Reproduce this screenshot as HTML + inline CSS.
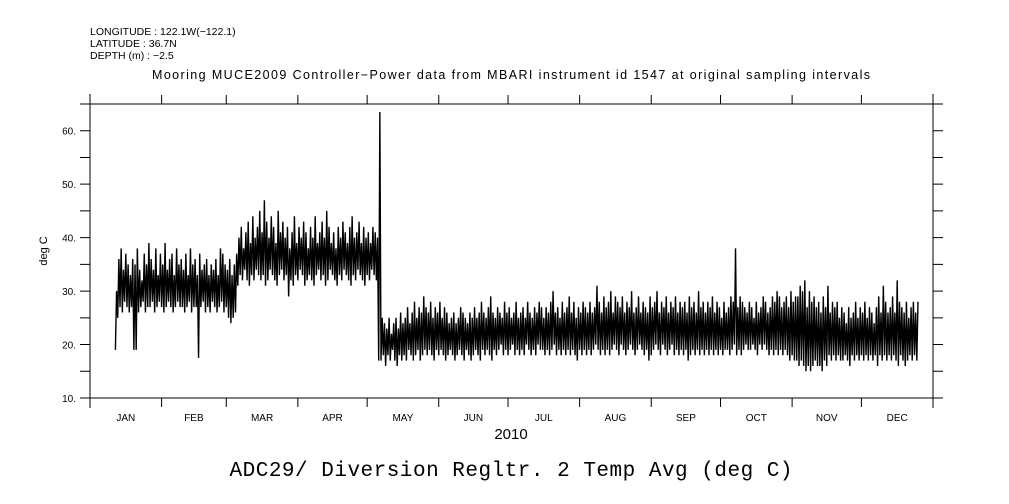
<!DOCTYPE html>
<html><head><meta charset="utf-8"><style>
html,body{margin:0;padding:0;background:#fff;}
svg{display:block;font-family:"Liberation Sans",sans-serif;}
</style></head><body>
<svg id="chart" width="1009" height="504" viewBox="0 0 1009 504" xmlns="http://www.w3.org/2000/svg">
<text x="90" y="35" font-size="10.5">LONGITUDE : 122.1W(−122.1)</text>
<text x="90" y="47" font-size="10.5">LATITUDE : 36.7N</text>
<text x="90" y="59" font-size="10.5">DEPTH (m) : −2.5</text>
<text x="511" y="79" font-size="12.5" text-anchor="middle" textLength="718">Mooring MUCE2009 Controller−Power data from MBARI instrument id 1547 at original sampling intervals</text>
<text x="0" y="0" font-size="11" text-anchor="middle" transform="translate(47,251) rotate(-90)">deg C</text>
<text x="511" y="439" font-size="15" text-anchor="middle">2010</text>
<text x="511" y="476" font-size="21" text-anchor="middle" textLength="563" font-family="Liberation Mono, monospace">ADC29/ Diversion Regltr. 2 Temp Avg (deg C)</text>
<g id="axes"></g>
<g id="series"></g>
</svg>
<script>
const yTicks=[10,15,20,25,30,35,40,45,50,55,60,65];
const yLabels=["10.","20.","30.","40.","50.","60."];
const yLabelVals=[10,20,30,40,50,60];
const months=["JAN","FEB","MAR","APR","MAY","JUN","JUL","AUG","SEP","OCT","NOV","DEC"];
const monthStarts=[0,31,59,90,120,151,181,212,243,273,304,334,365];
const startDay=11;
const highs=[30,36,38,34,37,35,33,36,35,38,34,32,37,35,39,36,34,38,33,37,35,39,34,36,37,33,38,35,36,34,37,33,38,35,36,33,37,34,35,36,33,35,34,36,33,38,37,35,34,36,33,35,37,
40,42,38,41,43,39,44,40,42,45,41,47,43,40,44,42,39,45,41,43,40,42,38,41,44,39,42,40,43,41,38,42,40,44,39,41,43,40,45,42,39,41,38,42,40,43,41,39,42,44,40,41,43,39,42,40,41,39,42,41,40,
63.5,
25,24,23,25,22,24,25,23,26,24,25,27,24,26,28,25,27,26,29,27,26,28,25,27,26,28,25,27,26,24,25,26,24,25,27,26,25,24,26,25,27,25,26,28,26,25,27,29,26,25,27,26,25,28,26,27,25,26,28,25,26,27,25,28,26,25,27,26,28,27,25,27,26,28,30,26,27,25,28,26,27,29,26,28,25,27,26,28,27,26,28,26,27,31,28,26,29,27,28,30,26,29,28,27,29,26,28,27,30,26,27,29,26,28,27,26,29,27,28,30,26,28,27,29,26,28,27,29,26,28,27,28,26,29,27,28,26,30,27,28,26,28,27,29,26,28,27,25,28,26,27,29,28,38,27,29,28,27,26,28,27,25,28,26,27,29,28,26,27,29,28,30,29,27,28,29,27,30,28,29,29,31,30,32,27,30,28,29,27,28,26,29,27,31,26,28,27,28,25,27,26,24,27,25,26,28,25,27,26,28,25,27,26,24,27,29,26,31,28,26,27,29,26,32,28,27,26,28,25,27,28,26,28];
const lows=[19,25,27,26,28,27,26,27,19,19,26,27,28,26,27,27,28,26,27,28,27,26,27,28,27,26,27,28,27,27,26,27,28,26,27,27,17.5,27,28,26,27,26,28,27,26,27,28,26,27,25,24,25,26,
31,33,32,34,32,31,33,32,34,33,32,33,31,32,34,33,32,31,33,34,32,33,29,32,31,33,32,34,33,31,32,33,32,31,33,34,32,33,31,32,34,33,32,31,33,32,34,33,32,31,33,32,34,33,32,31,33,32,34,33,32,
17,
17,18,16,18,17,19,17,16,18,17,18,17,19,18,17,18,19,17,18,19,18,19,18,17,19,18,19,18,17,18,19,18,17,18,19,18,17,19,18,17,18,19,18,17,19,18,19,18,17,19,18,19,20,18,19,18,19,20,18,19,18,19,18,20,19,18,19,18,20,19,19,18,19,18,19,20,18,19,18,19,18,19,18,19,18,17,19,18,19,18,19,18,19,20,19,18,19,18,19,18,19,20,19,18,20,19,18,19,20,19,18,19,20,19,18,19,17,18,19,20,19,18,20,19,18,19,20,18,19,18,19,18,19,17,18,19,18,19,18,19,18,19,18,19,18,19,18,19,18,19,19,18,19,20,18,19,18,19,20,19,19,20,19,18,20,19,20,19,18,19,18,19,18,19,18,19,18,17,18,17,17,16,17,16,15,16,15,16,17,16,16,15,17,16,18,17,18,17,18,17,17,18,17,16,18,17,18,17,18,17,18,17,18,17,18,16,18,17,18,17,18,17,18,17,16,18,17,16,17,18,17,18,17];
const NS="http://www.w3.org/2000/svg";
const X0=90,X1=933,Y0=104,Y1=398;
function xScale(d){return X0+d*(X1-X0)/365;}
function yScale(v){return Y1-(v-10)*(Y1-Y0)/55;}
function mk(tag,attrs,parent){const e=document.createElementNS(NS,tag);for(const k in attrs)e.setAttribute(k,attrs[k]);parent.appendChild(e);return e;}
const axes=document.getElementById('axes');
const frame=mk('path',{d:`M${X0-10} ${Y0}H${X1+10}M${X0-10} ${Y1}H${X1+10}M${X0} ${Y0-10}V${Y1+10}M${X1} ${Y0-10}V${Y1+10}`,stroke:'#000','stroke-width':1,fill:'none'},axes);


yTicks.forEach(v=>{const y=yScale(v);
 const t=mk('path',{d:`M${X0-10} ${y}H${X0}M${X1} ${y}H${X1+10}`,stroke:'#000','stroke-width':1},axes);
 
 });
yLabelVals.forEach((v,i)=>{const t=mk('text',{x:X0-14,y:yScale(v)+4,'font-size':10,'text-anchor':'end'},axes);t.textContent=yLabels[i];
 
 });
monthStarts.forEach(d=>{const x=xScale(d);
 const t=mk('path',{d:`M${x} ${Y0-9}V${Y0}M${x} ${Y1}V${Y1+9}`,stroke:'#000','stroke-width':1},axes);
 
 });
months.forEach((m,i)=>{const x=xScale((monthStarts[i]+monthStarts[i+1])/2);
 const t=mk('text',{x:x,y:421,'font-size':10,'text-anchor':'middle'},axes);t.textContent=m;
 
 });
let pts=[];
for(let i=0;i<highs.length;i++){const d=startDay+i;
 pts.push(xScale(d).toFixed(2)+','+yScale(lows[i]).toFixed(2));
 pts.push(xScale(d+0.5).toFixed(2)+','+yScale(highs[i]).toFixed(2));}
const line=mk('polyline',{points:pts.join(' '),fill:'none',stroke:'#000','stroke-width':1.4,'stroke-linejoin':'miter'},document.getElementById('series'));


</script>
</body></html>
